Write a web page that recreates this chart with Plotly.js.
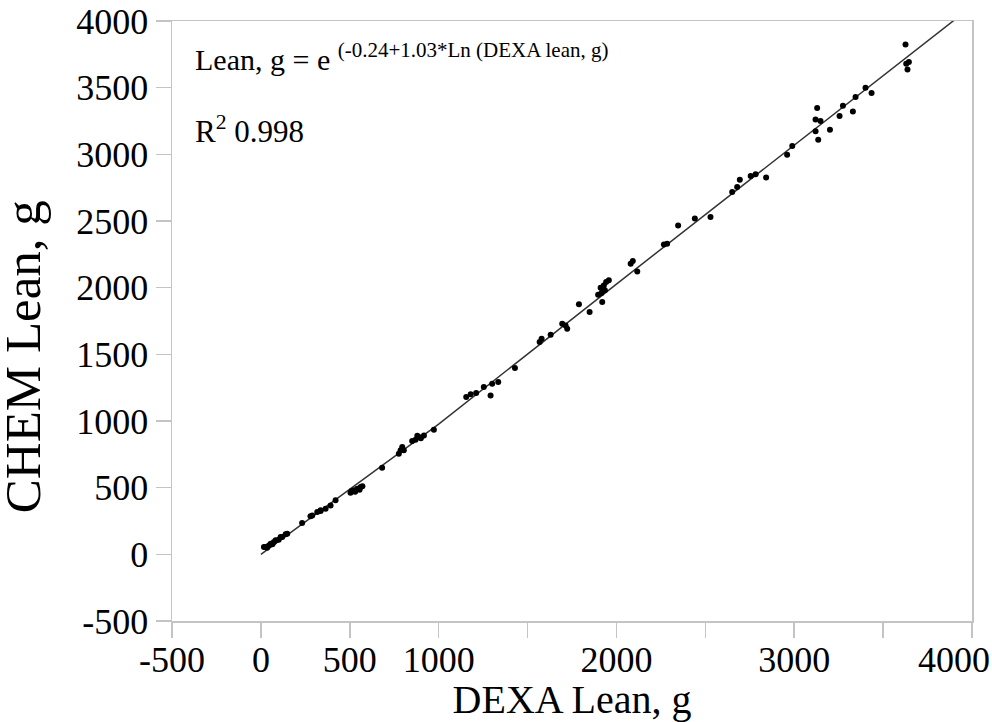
<!DOCTYPE html>
<html>
<head>
<meta charset="utf-8">
<script src="https://cdn.plot.ly/plotly-3.0.1.min.js"></script>
<style>html,body{margin:0;padding:0;background:#fff;}#chart{width:992px;height:722px;}</style>
</head>
<body>
<div id="chart"></div>
<script>
// DEXA lean (x) vs chemical lean (y), grams
const dexaLean = [17,26,35,45,55,65,73,83,100,111,120,139,148,232,279,289,317,336,336,364,392,420,
  504,510,523,530,542,555,561,571,682,776,786,795,804,851,870,880,889,900,917,973,
  1155,1180,1211,1254,1292,1301,1335,1429,1568,1579,1630,1695,1714,1723,1789,1849,
  1897,1911,1916,1920,1929,1935,1942,1957,2080,2092,2117,2267,2285,2347,2441,2529,
  2651,2679,2694,2755,2783,2842,2960,2989,3120,3120,3129,3135,3148,3201,
  3255,3274,3330,3345,3401,3435,3626,3630,3637,3645];
const chemLean = [55,55,50,67,80,75,92,105,110,130,130,150,155,235,285,292,317,325,330,342,367,405,
  462,475,480,470,492,485,505,510,650,755,780,805,780,850,860,890,880,870,892,935,
  1180,1200,1210,1255,1192,1280,1292,1397,1592,1617,1647,1730,1717,1692,1875,1817,
  1947,2000,1960,1892,2017,1980,2042,2055,2180,2200,2122,2323,2330,2467,2518,2530,
  2717,2755,2810,2837,2850,2827,2997,3062,3173,3262,3347,3110,3250,3185,
  3287,3365,3322,3430,3500,3460,3823,3680,3637,3692];
// fitted curve
const fitX = [0, 1000, 2000, 3000, 3915];
const fitY = [0, 977, 2027, 3070, 4022];
const xTicks = [-500,0,500,1000,1500,2000,2500,3000,3500,4000];
const xTickText = ['-500','0','500','1000','','2000','','3000','','4000\u00a0\u00a0\u00a0\u00a0'];
const yTicks = [-500,0,500,1000,1500,2000,2500,3000,3500,4000];
const yTickText = ['-500','0','500','1000','1500','2000','2500','3000','3500','4000'];

const serif = 'Liberation Serif';
const axisCommon = {
  showgrid:false, zeroline:false, showline:true, mirror:true,
  linecolor:'#c4c4c4', linewidth:1.5,
  ticks:'outside', ticklen:15, tickwidth:1.5, tickcolor:'#c4c4c4',
  tickfont:{family:serif, size:36, color:'#000'}
};
const data = [
  {x:fitX, y:fitY, mode:'lines', type:'scatter', line:{color:'#333', width:1.5}, hoverinfo:'skip', showlegend:false, cliponaxis:false},
  {x:dexaLean, y:chemLean, mode:'markers', type:'scatter', marker:{color:'#000', size:6}, showlegend:false}
];
const layout = {
  width:992, height:722,
  margin:{l:172, r:20, t:21, b:101},
  paper_bgcolor:'#fff', plot_bgcolor:'#fff',
  xaxis:Object.assign({}, axisCommon, {range:[-500,4000], tickmode:'array', tickvals:xTicks, ticktext:xTickText,
    ticklabeloverflow:'allow', ticklabelstandoff:-9,
    title:{text:'DEXA Lean, g\u00a0', font:{family:serif, size:40, color:'#000'}, standoff:0}}),
  yaxis:Object.assign({}, axisCommon, {range:[-500,4000], tickmode:'array', tickvals:yTicks, ticktext:yTickText}),
  annotations:[
    {xref:'paper', yref:'paper', x:-0.186, y:0.44, xanchor:'center', yanchor:'middle', textangle:-90,
     text:'CHEM Lean, g', showarrow:false, font:{family:serif, size:51, color:'#000'}},
    {xref:'paper', yref:'paper', x:0.026, y:0.94, xanchor:'left', yanchor:'middle', showarrow:false,
     text:'Lean, g = e <sup>(-0.24+1.03*Ln (DEXA lean, g)</sup>', font:{family:serif, size:30, color:'#000'}},
    {xref:'paper', yref:'paper', x:0.026, y:0.82, xanchor:'left', yanchor:'middle', showarrow:false,
     text:'R<sup>2</sup> 0.998', font:{family:serif, size:31, color:'#000'}}
  ]
};
Plotly.newPlot('chart', data, layout, {displayModeBar:false, staticPlot:true});
</script>
</body>
</html>
